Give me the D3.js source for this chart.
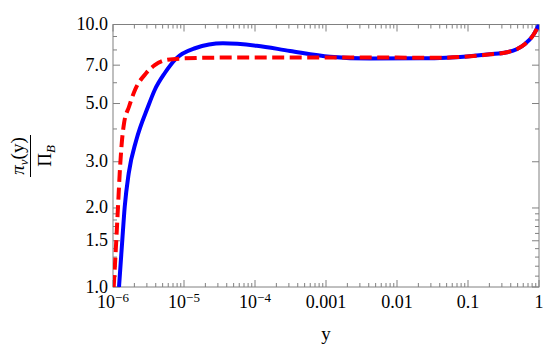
<!DOCTYPE html>
<html><head><meta charset="utf-8">
<script src="https://cdn.jsdelivr.net/npm/d3@7"></script>
<style>body{margin:0;background:#fff}svg{display:block}</style>
</head><body>
<svg id="c" width="545" height="350"></svg>
<script>
// Data
const blueX = [1.215e-6,1.352e-6,1.462e-6,1.664e-6,2.13e-6,3.11e-6,3.87e-6,5.34e-6,7.8e-6,1.43e-5,3.54e-5,1.06e-4,3.11e-4,1.14e-3,4.17e-3,0.0211,0.0404,0.077,0.204,0.351,0.485,0.635,0.832,1];
const blueV = [1.0,1.51,2.02,2.71,3.63,4.86,5.63,6.52,7.43,8.12,8.48,8.30,7.93,7.54,7.42,7.43,7.46,7.52,7.70,7.84,8.05,8.43,9.12,10.0];
const redX = [1.023e-6,1.113e-6,1.176e-6,1.243e-6,1.34e-6,1.43e-6,1.68e-6,2.04e-6,2.92e-6,3.87e-6,5.57e-6,1.03e-5,3.2e-5,1e-4,1e-3,0.01,0.0404,0.077,0.204,0.351,0.485,0.635,0.832,1];
const redV = [1.0,1.51,2.02,2.71,3.63,4.20,4.86,5.63,6.52,7.0,7.32,7.43,7.48,7.49,7.49,7.48,7.47,7.52,7.70,7.84,8.05,8.43,9.12,10.0];
const xMajor = [1e-6,1e-5,1e-4,1e-3,1e-2,1e-1,1];
const xLabels = [["10","\u22126"],["10","\u22125"],["10","\u22124"],["0.001",""],["0.01",""],["0.1",""],["1",""]];
const yMajor = [1,1.5,2,3,5,7,10];
const yLabels = ["1.0","1.5","2.0","3.0","5.0","7.0","10.0"];
const yMinor = [1.1,1.2,1.3,1.4,1.6,1.7,1.8,1.9,4,6,8,9];

const L=113,R=539,T=24.5,B=287;
const svg=d3.select("#c");
const x=d3.scaleLog().domain([1e-6,1]).range([L,R]);
const y=d3.scaleLog().domain([1,10]).range([B,T]);
const font="'Liberation Serif','Times New Roman',serif";
const frameCol="#808080";

svg.append("defs").append("clipPath").attr("id","clip").append("rect")
  .attr("x",L).attr("y",T).attr("width",R-L).attr("height",B-T);

// x minor ticks
const xMinor=[];
for(let e=-6;e<0;e++) for(let m=2;m<=9;m++) xMinor.push(m*Math.pow(10,e));

const g=svg.append("g");
// frame
g.append("rect").attr("x",L).attr("y",T).attr("width",R-L).attr("height",B-T)
  .attr("fill","none").attr("stroke",frameCol).attr("stroke-width",1);

function tick(x1,y1,x2,y2){g.append("line").attr("x1",x1).attr("y1",y1).attr("x2",x2).attr("y2",y2).attr("stroke",frameCol).attr("stroke-width",1);}
xMajor.forEach(v=>{const p=x(v);tick(p,B,p,B-7);tick(p,T,p,T+7);});
xMinor.forEach(v=>{const p=x(v);tick(p,B,p,B-4);tick(p,T,p,T+4);});
yMajor.forEach(v=>{const p=y(v);tick(L,p,L+7,p);tick(R,p,R-7,p);});
yMinor.forEach(v=>{const p=y(v);tick(L,p,L+4,p);tick(R,p,R-4,p);});

// x labels
xMajor.forEach((v,i)=>{
  const t=svg.append("text").attr("x",x(v)).attr("y",308).attr("text-anchor","middle")
    .attr("font-family",font).attr("font-size",18).attr("fill","#000");
  t.append("tspan").text(xLabels[i][0]);
  if(xLabels[i][1]) t.append("tspan").attr("font-size",13).attr("dy",-6).text(xLabels[i][1]);
});
// y labels
yMajor.forEach((v,i)=>{
  svg.append("text").attr("x",108).attr("y",y(v)+5.5).attr("text-anchor","end")
    .attr("font-family",font).attr("font-size",18).attr("fill","#000").text(yLabels[i]);
});
// axis title x
svg.append("text").attr("x",326).attr("y",340).attr("text-anchor","middle")
  .attr("font-family",font).attr("font-size",19).text("y");
// axis title y (fraction rotated)
const yl=svg.append("g").attr("transform","translate(30.5,156) rotate(-90)");
const num=yl.append("text").attr("x",0).attr("y",-7).attr("text-anchor","middle")
  .attr("font-family",font).attr("font-size",19);
num.append("tspan").attr("font-style","italic").text("\u03C0");
num.append("tspan").attr("font-style","italic").attr("font-size",13).attr("dy",4).text("\u03BD");
num.append("tspan").attr("dy",-4).text("(y)");
yl.append("line").attr("x1",-21).attr("x2",21).attr("y1",0).attr("y2",0).attr("stroke","#000").attr("stroke-width",1);
const den=yl.append("text").attr("x",0).attr("y",20).attr("text-anchor","middle")
  .attr("font-family",font).attr("font-size",19);
den.append("tspan").text("\u03A0");
den.append("tspan").attr("font-style","italic").attr("font-size",13).attr("dy",4).text("B");

// curves
const line=d3.line().x(d=>x(d[0])).y(d=>y(d[1])).curve(d3.curveMonotoneX);
const cg=svg.append("g").attr("clip-path","url(#clip)");
cg.append("path").attr("d",line(blueX.map((v,i)=>[v,blueV[i]])))
  .attr("fill","none").attr("stroke","#0000ff").attr("stroke-width",4);
cg.append("path").attr("d",line(redX.map((v,i)=>[v,redV[i]])))
  .attr("fill","none").attr("stroke","#ff0000").attr("stroke-width",4)
  .attr("stroke-dasharray","12,5.5");
</script>
</body></html>
